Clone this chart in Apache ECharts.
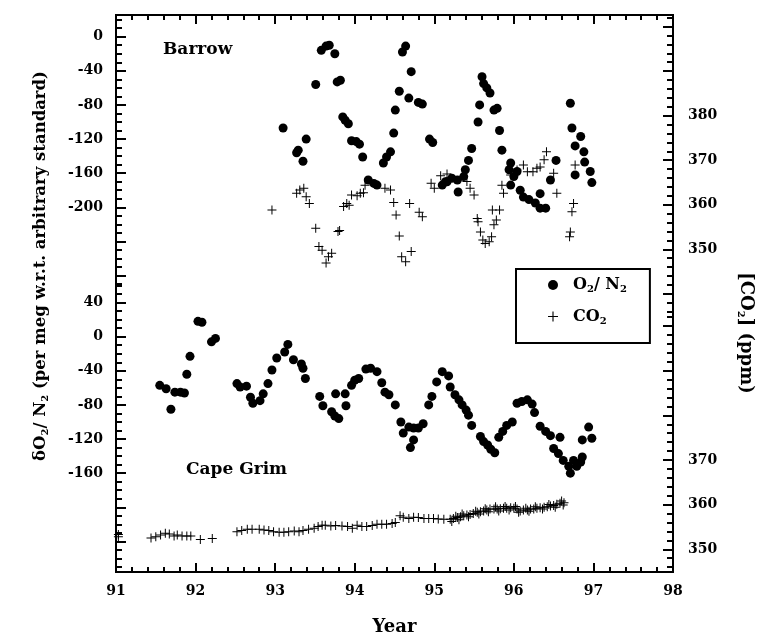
<!DOCTYPE html>
<html>
<head>
<meta charset="utf-8">
<script src="https://cdn.jsdelivr.net/npm/echarts@6/dist/echarts.min.js"></script>
<style>
  html, body { margin: 0; padding: 0; background: #fff; }
  #main { width: 762px; height: 642px; }
</style>
</head>
<body>
<div id="main"></div>
<script>
// [year, per meg] and [year, ppm]
var barrowO2 = [
    [93.10, -107], [93.27, -136], [93.29, -133], [93.35, -146], [93.39, -120], [93.51, -56],
    [93.58, -16], [93.64, -11], [93.68, -10], [93.75, -20], [93.78, -53], [93.82, -51],
    [93.85, -94], [93.88, -98], [93.92, -102], [93.96, -122], [94.02, -123], [94.06, -126],
    [94.10, -141], [94.17, -168], [94.24, -172], [94.28, -174], [94.36, -148], [94.40, -141],
    [94.45, -135], [94.49, -113], [94.51, -86], [94.56, -64], [94.60, -18], [94.64, -11],
    [94.68, -72], [94.71, -41], [94.80, -77], [94.85, -79], [94.94, -120], [94.98, -124],
    [95.10, -174], [95.14, -170], [95.16, -170], [95.22, -166], [95.29, -168], [95.30, -182],
    [95.37, -164], [95.39, -156], [95.43, -145], [95.47, -131], [95.55, -100], [95.57, -80],
    [95.60, -47], [95.62, -55], [95.66, -60], [95.70, -66], [95.75, -86], [95.79, -84],
    [95.82, -110], [95.85, -133], [95.94, -156], [95.96, -148], [95.96, -174], [96.00, -164],
    [96.04, -158], [96.08, -180], [96.12, -188], [96.19, -191], [96.27, -195], [96.33, -184],
    [96.33, -201], [96.40, -201], [96.46, -168], [96.53, -145], [96.71, -78], [96.73, -107],
    [96.77, -128], [96.77, -162], [96.84, -117], [96.88, -135], [96.89, -147], [96.96, -158],
    [96.98, -171]
];
var barrowCO2 = [
    [92.96, 358.8], [93.27, 362.6], [93.31, 363.3], [93.36, 363.7], [93.39, 361.8], [93.43, 360.3],
    [93.51, 354.7], [93.55, 350.6], [93.59, 349.8], [93.64, 346.9], [93.67, 348.3], [93.71, 349.1],
    [93.79, 354.0], [93.81, 354.2], [93.86, 359.6], [93.90, 360.3], [93.93, 359.9], [93.96, 362.2],
    [94.03, 362.0], [94.07, 362.6], [94.11, 362.7], [94.13, 364.4], [94.38, 363.7], [94.45, 363.3],
    [94.49, 360.5], [94.52, 357.7], [94.56, 353.0], [94.59, 348.3], [94.64, 347.2], [94.69, 360.3],
    [94.71, 349.5], [94.81, 358.3], [94.85, 357.3], [94.96, 364.8], [95.00, 363.7], [95.08, 366.5],
    [95.16, 366.9], [95.20, 366.0], [95.41, 365.2], [95.45, 363.7], [95.50, 362.2], [95.54, 356.9],
    [95.55, 356.2], [95.58, 353.9], [95.61, 352.1], [95.64, 351.3], [95.69, 351.7], [95.72, 352.8],
    [95.73, 358.8], [95.75, 355.5], [95.78, 356.6], [95.82, 358.8], [95.85, 364.4], [95.87, 362.6],
    [95.96, 366.7], [96.04, 367.8], [96.12, 368.9], [96.17, 367.4], [96.24, 367.4], [96.29, 368.2],
    [96.33, 368.5], [96.38, 370.1], [96.41, 371.9], [96.50, 367.1], [96.54, 362.6], [96.70, 352.8],
    [96.71, 353.9], [96.73, 358.4], [96.75, 360.3], [96.77, 368.9]
];
var capeO2 = [
    [91.55, -57], [91.63, -61], [91.69, -85], [91.74, -65], [91.81, -65], [91.86, -66],
    [91.89, -44], [91.93, -23], [92.03, 18], [92.08, 17], [92.20, -6], [92.25, -2],
    [92.52, -55], [92.56, -59], [92.64, -58], [92.69, -71], [92.72, -78], [92.81, -75],
    [92.85, -67], [92.91, -55], [92.96, -39], [93.02, -25], [93.12, -18], [93.16, -9],
    [93.23, -27], [93.33, -32], [93.35, -37], [93.38, -49], [93.56, -70], [93.60, -81],
    [93.71, -88], [93.75, -93], [93.76, -67], [93.80, -96], [93.88, -67], [93.89, -81],
    [93.96, -57], [94.00, -51], [94.05, -49], [94.14, -38], [94.20, -37], [94.28, -41],
    [94.34, -54], [94.38, -65], [94.43, -68], [94.51, -80], [94.58, -100], [94.61, -113],
    [94.68, -106], [94.70, -130], [94.74, -107], [94.74, -121], [94.80, -107], [94.86, -102],
    [94.93, -80], [94.97, -70], [95.03, -53], [95.10, -41], [95.18, -46], [95.20, -59],
    [95.26, -68], [95.31, -74], [95.35, -80], [95.40, -86], [95.43, -92], [95.47, -104],
    [95.58, -117], [95.62, -123], [95.67, -127], [95.71, -132], [95.76, -136], [95.81, -118],
    [95.86, -111], [95.91, -104], [95.98, -100], [96.04, -78], [96.10, -76], [96.17, -74],
    [96.23, -79], [96.26, -89], [96.33, -105], [96.40, -111], [96.46, -116], [96.50, -131],
    [96.56, -137], [96.58, -118], [96.62, -145], [96.69, -152], [96.71, -160], [96.75, -145],
    [96.79, -152], [96.84, -147], [96.86, -141], [96.86, -121], [96.94, -106], [96.98, -119]
];
var capeCO2 = [
    [91.03, 352.8], [91.03, 353.3], [91.44, 352.5], [91.50, 352.8], [91.56, 353.2], [91.62, 353.6],
    [91.67, 353.4], [91.73, 353.0], [91.77, 353.2], [91.83, 353.0], [91.89, 353.0], [91.94, 353.0],
    [92.06, 352.2], [92.21, 352.4], [92.52, 353.9], [92.58, 354.2], [92.65, 354.5], [92.71, 354.5],
    [92.80, 354.5], [92.86, 354.3], [92.92, 354.2], [92.98, 353.9], [93.05, 353.8], [93.11, 353.8],
    [93.17, 353.9], [93.24, 354.1], [93.30, 353.9], [93.35, 354.2], [93.42, 354.5], [93.49, 354.7],
    [93.54, 355.1], [93.59, 355.4], [93.63, 355.4], [93.70, 355.2], [93.76, 355.3], [93.84, 355.2],
    [93.91, 355.1], [93.97, 354.7], [94.03, 355.4], [94.09, 355.1], [94.15, 355.1], [94.22, 355.3],
    [94.28, 355.6], [94.34, 355.6], [94.40, 355.6], [94.47, 355.8], [94.51, 356.0], [94.57, 357.5],
    [94.61, 357.2], [94.68, 356.9], [94.74, 357.2], [94.80, 357.1], [94.87, 356.9], [94.93, 356.9],
    [94.99, 356.9], [95.05, 356.8], [95.12, 356.7], [95.20, 356.7], [95.22, 356.2], [95.24, 356.9],
    [95.27, 357.4], [95.29, 357.1], [95.31, 356.6], [95.33, 357.3], [95.35, 357.9], [95.37, 357.5],
    [95.41, 357.7], [95.43, 357.3], [95.45, 357.8], [95.49, 358.0], [95.52, 358.5], [95.54, 358.3],
    [95.56, 357.9], [95.58, 358.4], [95.62, 358.6], [95.64, 359.1], [95.66, 358.8], [95.68, 358.4],
    [95.70, 359.0], [95.75, 359.0], [95.77, 359.5], [95.79, 359.0], [95.81, 358.6], [95.83, 359.1],
    [95.87, 359.2], [95.89, 359.6], [95.91, 359.2], [95.94, 358.8], [95.96, 359.3], [96.00, 359.2],
    [96.02, 359.6], [96.04, 359.0], [96.06, 358.3], [96.08, 358.6], [96.12, 358.8], [96.15, 359.2],
    [96.17, 358.8], [96.19, 358.5], [96.21, 359.0], [96.25, 359.0], [96.27, 359.5], [96.29, 359.2],
    [96.33, 359.3], [96.36, 359.0], [96.38, 359.4], [96.42, 359.5], [96.44, 360.0], [96.46, 359.7],
    [96.50, 359.8], [96.52, 359.4], [96.54, 360.1], [96.58, 360.3], [96.60, 360.8], [96.62, 359.9],
    [96.63, 360.4]
];

var yearTicks = [91, 92, 93, 94, 95, 96, 97, 98];
var barrowO2Labels = [0, -40, -80, -120, -160, -200];
var capeO2Labels = [40, 0, -40, -80, -120, -160];
var barrowCO2Labels = [380, 370, 360, 350];
var capeCO2Labels = [370, 360, 350];

function steps(from, to, step) {
    var out = [];
    for (var v = from; v >= to; v -= step) out.push(v);
    return out;
}

var FONT = 'DejaVu Serif';
var plusPath = 'path://M4,0h1v4h4v1h-4v4h-1v-4h-4v-1h4z';

function scaleAxis(pos, min, max, ticks, labels, len) {
    return {
        type: 'value',
        position: pos,
        min: min,
        max: max,
        offset: 0,
        axisLine: { show: false },
        splitLine: { show: false },
        axisTick: {
            show: true, inside: true, length: len, customValues: ticks,
            lineStyle: { color: '#000', width: 2 }
        },
        axisLabel: labels ? {
            show: true, customValues: labels, margin: pos === 'left' ? 13 : 15,
            fontFamily: FONT, fontWeight: 'bold', fontSize: 14, color: '#000'
        } : { show: false }
    };
}

function xAx(pos, labels) {
    return {
        type: 'value',
        position: pos,
        min: 91,
        max: 98,
        interval: 1,
        // CO2 axis has no zero, so the x axes stay on the frame edges
        axisLine: { show: false, onZeroAxisIndex: 4 },
        splitLine: { show: false },
        axisTick: { show: true, inside: true, length: 9, lineStyle: { color: '#000', width: 2 } },
        minorTick: { show: true, splitNumber: 5, length: 5, lineStyle: { color: '#000', width: 2 } },
        axisLabel: labels ? {
            show: true, margin: 12, fontFamily: FONT, fontWeight: 'bold', fontSize: 14, color: '#000',
            formatter: function (v) { return yearTicks.indexOf(v) >= 0 ? String(v) : ''; }
        } : { show: false },
        name: labels ? 'Year' : '',
        nameLocation: 'middle',
        nameGap: 46,
        nameTextStyle: { fontFamily: FONT, fontWeight: 'bold', fontSize: 18, color: '#000' }
    };
}

function subRich(size) {
    return {
        n: { fontFamily: FONT, fontWeight: 'bold', fontSize: size, color: '#000', lineHeight: size + 3 },
        s: { fontFamily: FONT, fontWeight: 'bold', fontSize: 10, color: '#000', lineHeight: 11, verticalAlign: 'bottom' }
    };
}

var chart = echarts.init(document.getElementById('main'));
chart.setOption({
    backgroundColor: '#ffffff',
    animation: false,
    grid: {
        left: 116, right: 89, top: 15, bottom: 70,
        show: true, borderColor: '#000', borderWidth: 2
    },
    xAxis: [xAx('bottom', true), xAx('top', false)],
    yAxis: [
        scaleAxis('left', -627.55, 25.44, steps(0, -280, 40), barrowO2Labels, 10),
        scaleAxis('left', -627.55, 25.44, steps(20, -290, 10), null, 6),
        scaleAxis('left', -275.85, 377.14, steps(40, -240, 40), capeO2Labels, 10),
        scaleAxis('left', -275.85, 377.14, steps(60, -270, 10), null, 6),
        scaleAxis('right', 277.53, 402.61, steps(400, 340, 10), barrowCO2Labels, 10),
        scaleAxis('right', 277.53, 402.61, steps(402, 336, 2), null, 6),
        scaleAxis('right', 344.91, 469.66, steps(400, 350, 10), capeCO2Labels, 10),
        scaleAxis('right', 344.91, 469.66, steps(402, 346, 2), null, 6)
    ],
    legend: {
        orient: 'vertical',
        left: 516,
        top: 269,
        data: ['O2/N2', 'CO2'],
        itemWidth: 10,
        itemHeight: 10,
        itemGap: 14,
        padding: [8, 23, 17, 32],
        borderColor: '#000',
        borderWidth: 2,
        selectedMode: false,
        textStyle: {
            padding: [0, 0, 0, 10],
            rich: subRich(16)
        },
        formatter: function (name) {
            return name === 'CO2' ? '{n|CO}{s|2}' : '{n|O}{s|2}{n|/ N}{s|2}';
        }
    },
    graphic: [
        {
            type: 'text', x: 163, y: 50,
            style: { text: 'Barrow', fontFamily: FONT, fontWeight: 'bold', fontSize: 17, fill: '#000', align: 'left', verticalAlign: 'middle' }
        },
        {
            type: 'text', x: 186, y: 470,
            style: { text: 'Cape Grim', fontFamily: FONT, fontWeight: 'bold', fontSize: 17, fill: '#000', align: 'left', verticalAlign: 'middle' }
        },
        {
            type: 'text', x: 41, y: 266, rotation: Math.PI / 2,
            style: {
                text: '{n|δO}{s|2}{n|/ N}{s|2}{n| (per meg w.r.t. arbitrary standard)}',
                rich: subRich(16.5), align: 'center', verticalAlign: 'middle'
            }
        },
        {
            type: 'text', x: 746, y: 333, rotation: -Math.PI / 2,
            style: {
                text: '{n|[CO}{s|2}{n|] (ppm)}',
                rich: subRich(18), align: 'center', verticalAlign: 'middle'
            }
        }
    ],
    series: [
        {
            name: 'O2/N2', type: 'scatter', xAxisIndex: 0, yAxisIndex: 0,
            data: barrowO2, symbol: 'circle', symbolSize: 9, itemStyle: { color: '#000', opacity: 1 }
        },
        {
            name: 'CO2', type: 'scatter', xAxisIndex: 0, yAxisIndex: 4,
            data: barrowCO2, symbol: plusPath, symbolSize: 9, itemStyle: { color: '#000', opacity: 1 }
        },
        {
            name: 'O2/N2', type: 'scatter', xAxisIndex: 0, yAxisIndex: 2,
            data: capeO2, symbol: 'circle', symbolSize: 9, itemStyle: { color: '#000', opacity: 1 }
        },
        {
            name: 'CO2', type: 'scatter', xAxisIndex: 0, yAxisIndex: 6,
            data: capeCO2, symbol: plusPath, symbolSize: 9, itemStyle: { color: '#000', opacity: 1 }
        }
    ]
});
</script>
</body>
</html>
